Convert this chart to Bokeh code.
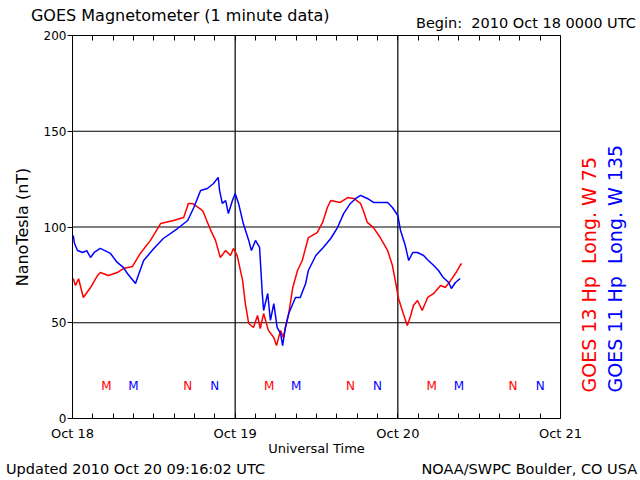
import math
from bokeh.plotting import figure
from bokeh.models import Range1d, FixedTicker, LinearAxis
from bokeh.core.properties import value
from bokeh.embed import file_html
from bokeh.resources import INLINE

# hours since 2010 Oct 18 00:00 UTC
g13_hours = [0.1, 0.44, 0.9, 1.6, 2.66, 3.7, 4.1, 5.3, 6.6, 7.5, 8.85, 10.0, 11.5, 13.0, 14.9, 16.4,
             17.1, 17.7, 19.2, 20.4, 21.1, 21.8, 22.6, 23.3, 23.75, 24.3, 25.1, 25.5, 26.0, 26.7, 27.3,
             27.7, 28.2, 28.9, 29.7, 30.1, 30.7, 31.1, 31.9, 32.5, 33.2, 33.9, 34.8, 36.1, 36.9, 37.6,
             38.1, 39.5, 40.6, 41.5, 42.5, 42.9, 43.5, 44.4, 45.4, 46.5, 47.2, 47.7, 48.1, 48.8, 49.4,
             49.9, 50.3, 50.9, 51.6, 52.4, 53.3, 54.3, 55.0, 55.8, 56.5, 57.2, 57.4]
g13_nt = [73.1, 69.5, 73.0, 63.2, 68.4, 74.7, 76.2, 74.7, 76.2, 78.3, 79.4, 86.2, 93.0, 101.8, 103.4, 105.0,
          112.3, 112.3, 108.6, 98.2, 93.0, 84.1, 87.7, 85.1, 88.8, 85.1, 72.0, 60.0, 49.6, 47.5, 53.8,
          47.0, 54.8, 46.0, 42.3, 38.1, 46.0, 42.3, 54.8, 68.4, 77.3, 82.5, 94.5, 97.1, 102.4, 110.2,
          113.8, 112.8, 115.4, 114.9, 112.3, 108.6, 102.4, 99.7, 94.5, 87.7, 79.9, 70.5, 62.7, 54.8, 48.6,
          53.8, 59.0, 61.6, 56.4, 63.2, 65.3, 69.5, 68.4, 72.1, 75.7, 79.9, 81.0]

g11_hours = [0.1, 0.3, 0.74, 1.5, 2.1, 2.66, 3.2, 4.1, 5.6, 6.6, 7.5, 8.1, 8.7, 9.3, 9.7, 10.5, 12.0,
             13.4, 15.5, 17.0, 17.9, 18.9, 19.9, 20.8, 21.5, 21.7, 22.1, 22.6, 23.0, 23.6, 24.0, 24.5,
             25.2, 26.0, 26.4, 27.0, 27.6, 28.0, 28.2, 28.8, 29.2, 29.7, 30.2, 30.7, 31.0, 31.4, 31.9,
             32.9, 33.6, 34.4, 34.8, 35.9, 37.0, 38.1, 39.1, 40.0, 41.0, 41.8, 42.5, 43.5, 44.4, 45.4,
             46.5, 47.2, 48.0, 48.4, 49.1, 49.6, 50.2, 50.9, 51.8, 52.5, 53.3, 54.0, 54.7, 55.5, 55.9,
             56.5, 57.2]
g11_nt = [95.6, 91.4, 87.7, 86.7, 87.7, 84.1, 86.7, 88.8, 86.2, 81.5, 78.9, 75.7, 73.1, 70.5, 74.7, 82.5, 88.8,
          94.0, 99.2, 103.4, 110.2, 119.1, 120.1, 122.7, 125.9, 119.1, 112.3, 113.8, 107.0, 113.8, 117.5, 112.3,
          101.8, 93.0, 87.7, 93.0, 89.3, 65.3, 56.4, 65.3, 51.2, 60.0, 47.5, 44.4, 38.1, 47.5, 54.8,
          63.2, 63.2, 70.5, 77.3, 85.1, 89.3, 94.0, 99.7, 107.0, 112.3, 114.9, 116.5, 114.9, 112.8, 112.8,
          112.8, 110.2, 106.0, 98.2, 90.3, 82.5, 86.7, 86.7, 85.1, 82.5, 79.9, 77.3, 73.6, 71.0, 67.9,
          71.0, 73.1]

# local midnight (M) / noon (N) markers
g13_mark_hours = [5, 17, 29, 41, 53, 65]
g13_mark_text = ["M", "N", "M", "N", "M", "N"]
g11_mark_hours = [9, 21, 33, 45, 57, 69]
g11_mark_text = ["M", "N", "M", "N", "M", "N"]
mark_level = 17

day_ticks = [0, 24, 48, 72]
day_labels = {0: "Oct 18", 24: "Oct 19", 48: "Oct 20", 72: "Oct 21"}
y_ticks = [0, 50, 100, 150, 200]

NBSP = "\u00a0"
title_text = "GOES Magnetometer (1 minute data)"
begin_text = "Begin:" + NBSP + " 2010 Oct 18 0000 UTC"
updated_text = "Updated 2010 Oct 20 09:16:02 UTC"
credit_text = "NOAA/SWPC Boulder, CO USA"
g13_label = "GOES 13 Hp" + NBSP + " Long. W 75"
g11_label = "GOES 11 Hp" + NBSP + " Long. W 135"

RED = "#ff0000"
BLUE = "#0000ff"
FONT = "DejaVu Sans"

p = figure(width=640, height=480, frame_width=488, frame_height=383,
           min_border_left=72, min_border_right=80, min_border_top=35, min_border_bottom=62,
           x_range=Range1d(0, 72), y_range=Range1d(0, 200),
           output_backend="svg", toolbar_location=None, x_axis_location=None, y_axis_location=None)
p.background_fill_color = "white"
p.border_fill_color = "white"
p.outline_line_color = "black"
p.outline_line_width = 1


def text_axis(ticks, labels, size, color="black", standoff=0, orientation="horizontal"):
    ax = LinearAxis(ticker=FixedTicker(ticks=ticks, minor_ticks=[]), major_label_overrides=labels)
    ax.major_tick_in = 0
    ax.major_tick_out = 0
    ax.minor_tick_in = 0
    ax.minor_tick_out = 0
    ax.axis_line_color = None
    ax.major_label_text_font = FONT
    ax.major_label_text_font_size = size
    ax.major_label_text_color = color
    ax.major_label_standoff = standoff
    ax.major_label_orientation = orientation
    return ax


# bottom time axis
ticker_x = FixedTicker(ticks=day_ticks, minor_ticks=list(range(0, 73, 3)))
xb = LinearAxis(ticker=ticker_x, major_label_overrides=day_labels, axis_label="Universal Time")
xb.major_tick_in = 5
xb.major_tick_out = 0
xb.minor_tick_in = 5
xb.minor_tick_out = 0
xb.major_label_text_font = FONT
xb.major_label_text_font_size = "13px"
xb.major_label_text_color = "black"
xb.major_label_standoff = 7
xb.axis_label_text_font = FONT
xb.axis_label_text_font_size = "13px"
xb.axis_label_text_font_style = "normal"
xb.axis_label_text_color = "black"
xb.axis_label_standoff = -3
xb.axis_line_color = "black"
p.add_layout(xb, "below")

# footer texts
foot = text_axis([9.3, 67.4], {9.3: updated_text, 67.4: credit_text}, "14.5px", standoff=2)
p.add_layout(foot, "below")

# top axis: minor ticks + "Begin" text
xt = LinearAxis(ticker=FixedTicker(ticks=[66.9], minor_ticks=list(range(0, 73, 3))),
                major_label_overrides={66.9: begin_text})
xt.major_tick_in = 0
xt.major_tick_out = 0
xt.minor_tick_in = 5
xt.minor_tick_out = 0
xt.major_label_text_font = FONT
xt.major_label_text_font_size = "14.5px"
xt.major_label_text_color = "black"
xt.major_label_standoff = 5
p.add_layout(xt, "above")

# title
tt = text_axis([15.9], {15.9: title_text}, "16px", standoff=-13)
p.add_layout(tt, "above")

# left axis
yl = LinearAxis(ticker=FixedTicker(ticks=y_ticks, minor_ticks=[]), axis_label="NanoTesla (nT)")
yl.major_tick_in = 0
yl.major_tick_out = 5
yl.major_label_text_font = FONT
yl.major_label_text_font_size = "12px"
yl.major_label_text_color = "black"
yl.major_label_standoff = 1
yl.axis_label_text_font = FONT
yl.axis_label_text_font_size = "16px"
yl.axis_label_text_font_style = "normal"
yl.axis_label_text_color = "black"
yl.axis_label_standoff = 9
p.add_layout(yl, "left")

# right-side satellite labels (text starts at the tick and reads upward)
r13 = text_axis([13.6], {13.6: g13_label}, "19px", color=RED, standoff=29, orientation=math.pi / 2)
p.add_layout(r13, "right")
r11 = text_axis([13.6], {13.6: g11_label}, "19px", color=BLUE, standoff=1, orientation=math.pi / 2)
p.add_layout(r11, "right")

p.xgrid.visible = False
p.ygrid.visible = False
for t in [24, 48]:
    p.line([t, t], [0, 200], line_color="black", line_width=1.2)
for v in [50, 100, 150]:
    p.line([0, 72], [v, v], line_color="black", line_width=1.2)

p.line(g13_hours, g13_nt, line_color=RED, line_width=1.5)
p.line(g11_hours, g11_nt, line_color=BLUE, line_width=1.5)

p.text(g13_mark_hours, [mark_level] * 6, text=g13_mark_text, text_color=RED,
       text_font=value(FONT), text_font_size="12px", text_align="center", text_baseline="middle")
p.text(g11_mark_hours, [mark_level] * 6, text=g11_mark_text, text_color=BLUE,
       text_font=value(FONT), text_font_size="12px", text_align="center", text_baseline="middle")

open("out.html", "w").write(file_html(p, INLINE))
